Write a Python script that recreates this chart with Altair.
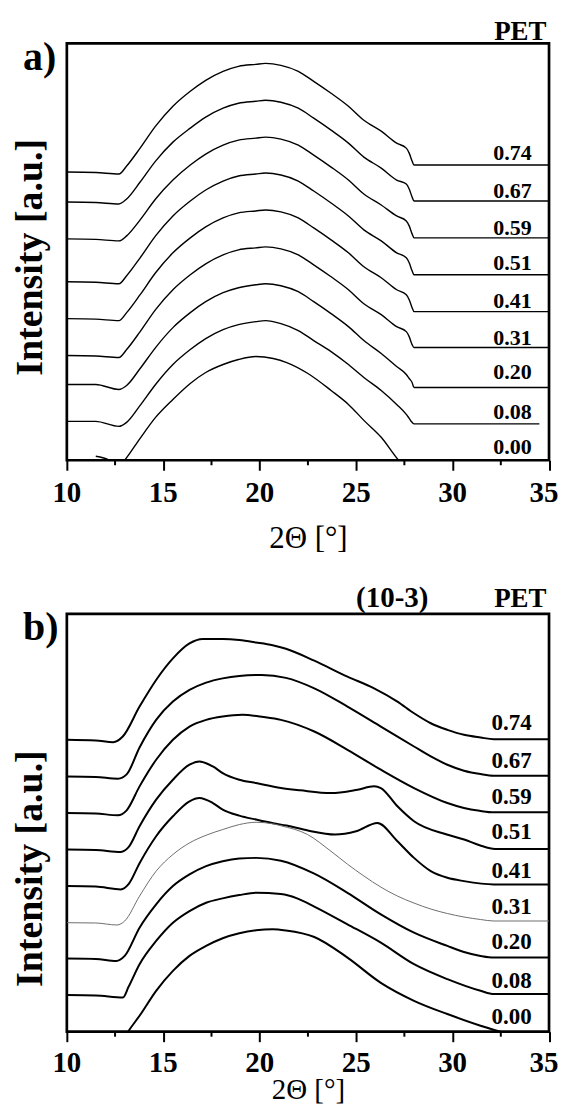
import altair as alt
import pandas as pd

FONT = "Liberation Serif"

# ---------------- Panel a) ----------------
XA = [10, 11.5, 12.7, 13.1, 13.8, 14.6, 15.5, 16.4, 17.2, 18.1, 18.9, 19.8, 20.3,
      21.1, 22.0, 22.8, 23.7, 24.6, 25.4, 26.3, 27.1, 27.6, 27.75, 27.9, 28.0, 35]
XA_008 = XA[:-1] + [34.5]
A_074 = [289, 288.5, 287, 295, 313, 335, 355, 370, 381, 390, 395, 397, 398, 396, 390, 380, 368, 355, 341, 330, 318, 313, 308, 300, 296, 296]
A_067 = [259, 258.5, 257, 262, 279, 300, 319, 333, 344, 353, 358, 360, 361, 359, 353, 343, 331, 318, 304, 293, 281, 277, 272, 264, 260, 260]
A_059 = [222, 221.5, 220, 225, 241, 262, 281, 296, 307, 316, 321, 323, 324, 322, 316, 306, 294, 281, 267, 256, 245, 240, 235, 227, 223, 223]
A_051 = [179, 178.5, 177, 185, 203, 225, 245, 260, 271, 280, 285, 287, 288, 286, 280, 270, 258, 245, 231, 220, 208, 203, 198, 190, 186, 186]
A_041 = [142, 141.5, 140, 148, 166, 188, 208, 223, 234, 243, 248, 250, 251, 249, 243, 233, 221, 208, 194, 183, 171, 166, 161, 153, 149, 149]
A_031 = [105, 104.5, 103, 111, 129, 151, 171, 186, 197, 206, 211, 213, 214, 212, 206, 196, 184, 171, 157, 146, 134, 129, 124, 116, 113, 113]
A_020 = [76, 76, 71, 75, 92, 113, 133, 148, 159, 168, 173, 176, 177, 175, 169, 159, 147, 134, 120, 107, 94, 86, 82, 78, 73, 73]
A_008 = [39, 39, 34, 38, 55, 76, 96, 111, 122, 131, 136, 139, 140, 137, 130, 120, 109, 96, 83, 70, 56, 46, 42, 38, 36.5, 36.5]
XA_000 = [11.5, 12.2, 12.6, 13.0, 13.8, 14.6, 15.5, 16.4, 17.2, 18.1, 18.9, 19.8, 20.7, 21.4, 22.5, 23.7, 24.6, 25.4, 26.3, 27.2, 27.7]
A_000 = [4, 0, -9, 0, 22, 43, 61, 77, 88, 96, 101, 104, 102, 98, 87, 70, 56, 40, 23, 0, -10]

CURVES_A = [("0.74", XA, A_074), ("0.67", XA, A_067), ("0.59", XA, A_059),
            ("0.51", XA, A_051), ("0.41", XA, A_041), ("0.31", XA, A_031),
            ("0.20", XA, A_020), ("0.08", XA_008, A_008), ("0.00", XA_000, A_000)]

# ---------------- Panel b) ----------------
XB_074 = [10, 11.5, 12.4, 12.9, 13.77, 14.63, 15.5, 16.36, 17.05, 18.08, 18.94, 19.81, 20.67, 21.36, 22.83, 24.55, 25.93, 27.14, 28.0, 28.87, 29.73, 30.59, 31.45, 32.14, 35]
B_074 = [292.7, 292, 290.3, 296, 326, 352.7, 374.3, 389.3, 393.7, 393.7, 392.7, 390.3, 387.5, 384, 372, 356, 344.3, 331, 319.3, 309.3, 302.7, 297.7, 295, 293.3, 293.3]
XB_067 = [10, 11.5, 12.65, 13.1, 13.77, 14.63, 15.5, 16.36, 17.22, 18.08, 18.94, 20.1, 21.36, 22.83, 24.55, 26.28, 28.0, 28.87, 29.73, 30.59, 31.45, 32.14, 35]
B_067 = [256, 255.5, 253.7, 258, 285, 312.7, 331, 342.7, 350, 354.3, 356.7, 357.7, 354.8, 344.3, 326, 306, 286, 276, 267.7, 261.7, 258.3, 256.7, 256.7]
XB_059 = [10, 11.5, 12.65, 13.1, 13.77, 14.63, 15.5, 16.36, 17.22, 18.08, 19.1, 20.2, 21.1, 22.83, 24.55, 26.28, 28.0, 29.73, 30.59, 31.4, 32.14, 35]
B_059 = [219.3, 218.8, 217, 222, 246, 272.7, 292.7, 306, 312.7, 316, 317.7, 315.5, 312.7, 301, 282.7, 262.7, 244.3, 229.3, 224.3, 221.5, 220, 220]
XB_051 = [10, 11.5, 12.8, 13.2, 13.77, 14.63, 15.5, 16.36, 16.87, 17.57, 18.08, 18.94, 19.81, 21.1, 22.1, 23.69, 25.07, 25.93, 26.28, 27.14, 28.0, 29.7, 30.6, 31.4, 32.2, 35]
B_051 = [182.7, 182.2, 180.3, 185, 206, 232.7, 252.7, 267.7, 271, 266, 259.3, 252.7, 249.3, 244.3, 242, 239.3, 242.7, 246, 244.3, 226, 211, 197.7, 192.7, 187, 183.3, 183.3]
XB_041 = [10, 11.5, 12.8, 13.2, 13.77, 14.63, 15.5, 16.36, 16.87, 17.57, 18.08, 18.94, 19.81, 20.7, 21.4, 22.5, 23.9, 25.0, 26.1, 27.14, 28.0, 28.87, 29.73, 30.59, 32.14, 35]
B_041 = [146, 145.5, 142.7, 148, 169, 196, 216, 231, 234.3, 229.3, 222.7, 216.7, 212.7, 209, 206.7, 201.7, 197.7, 201, 209.3, 191, 174.3, 161, 154.3, 151, 147.7, 147.7]
XB_031 = [10, 11.5, 12.6, 13.0, 13.77, 14.63, 15.5, 16.36, 17.22, 18.08, 18.94, 19.81, 20.67, 21.1, 22.48, 23.69, 24.55, 25.41, 26.28, 27.14, 28.0, 28.87, 29.73, 30.59, 31.45, 32.14, 35]
B_031 = [109.3, 109, 107, 111, 136, 161, 177.7, 189.3, 197, 202.7, 207.7, 210, 208.5, 206.5, 197.7, 181, 168, 156, 145, 136, 129, 123, 118.5, 115, 112.5, 111, 111]
XB_020 = [10, 11.5, 12.56, 13.0, 13.77, 14.63, 15.5, 16.36, 17.22, 18.08, 18.94, 19.81, 21.1, 22.83, 24.55, 26.28, 28.0, 29.73, 30.59, 31.45, 32.14, 35]
B_020 = [73.3, 73, 71, 76, 104.3, 127.7, 146, 157.7, 166, 171, 173.7, 174.3, 171.5, 158.5, 139.3, 117.7, 99.3, 86, 80, 76, 74.3, 74.3]
XB_008 = [10, 11.5, 12.91, 13.2, 13.77, 14.63, 15.5, 16.36, 17.22, 18.08, 18.94, 19.81, 21.1, 21.97, 22.83, 24.55, 26.28, 28.0, 29.73, 31.45, 32.14, 35]
B_008 = [36.7, 36.3, 34.3, 45, 67.7, 91, 109.3, 121, 129.3, 133.7, 137, 139.3, 138, 133.5, 125.5, 107.7, 89.3, 67.7, 52.7, 41, 37.7, 37.7]
XB_000 = [12.9, 13.17, 13.77, 14.63, 15.5, 16.36, 17.22, 18.08, 18.94, 19.81, 20.67, 21.36, 22.83, 24.55, 26.28, 28.0, 29.73, 31.45, 32.3, 32.8]
B_000 = [-8, 0, 16, 41, 61, 76, 86, 93.7, 98.7, 101.7, 102.7, 101.5, 95, 74.3, 49, 31, 17.7, 6, 1, -2]

CURVES_B = [("0.74", XB_074, B_074), ("0.67", XB_067, B_067), ("0.59", XB_059, B_059),
            ("0.51", XB_051, B_051), ("0.41", XB_041, B_041), ("0.31", XB_031, B_031),
            ("0.20", XB_020, B_020), ("0.08", XB_008, B_008), ("0.00", XB_000, B_000)]

LABELS = ["0.74", "0.67", "0.59", "0.51", "0.41", "0.31", "0.20", "0.08", "0.00"]
LABEL_Y_A = [297, 259, 222, 187, 149, 112, 77, 37, 2]
LABEL_Y_B = [295, 256, 220, 185, 146, 110, 75, 36, 0]
LABEL_X = 34.1

MAJOR_TICKS = [10, 15, 20, 25, 30, 35]
TICK_TEXT = ["10", "15", "20", "25", "30", "35"]
MINOR_TICKS = [12.5, 17.5, 22.5, 27.5, 32.5]

W = 483.5


def long_df(curves):
    rows = []
    for name, xs, ys in curves:
        for i, (xv, yv) in enumerate(zip(xs, ys)):
            rows.append({"s": name, "x": xv, "y": yv, "o": i})
    return pd.DataFrame(rows)


def panel(curves, height, ymax, label_y, label_dy, label_size, tag, tag_y,
          extra_texts, title_y, title_size, ytitle_y, ticklab_y, thin_curve, lw):
    xsc = alt.Scale(domain=[10, 35], nice=False, zero=False)
    ysc = alt.Scale(domain=[0, ymax], nice=False, zero=False)
    xaxis = alt.Axis(values=MAJOR_TICKS, title="2Θ [°]", grid=False, domain=False,
                     ticks=True, tickSize=10, tickWidth=2, tickColor="black",
                     labels=False,
                     titleFont=FONT, titleFontWeight="normal", titleFontSize=title_size,
                     titleColor="black", titleBaseline="alphabetic", titleAlign="center",
                     titleX=W / 2, titleY=title_y)
    yaxis = alt.Axis(ticks=False, labels=False, domain=False, grid=False,
                     title="Intensity [a.u.]", titleFont=FONT, titleFontWeight="bold",
                     titleFontSize=38, titleColor="black", titleAngle=270,
                     titleAlign="center", titleBaseline="alphabetic",
                     titleX=-25, titleY=ytitle_y)

    def X(field="x"):
        return alt.X(f"{field}:Q", scale=xsc, axis=xaxis)

    def Y(field="y"):
        return alt.Y(f"{field}:Q", scale=ysc, axis=yaxis)

    df = long_df(curves)
    thick = df[df["s"] != thin_curve] if thin_curve else df
    layers = [
        alt.Chart(thick).mark_line(color="black", strokeWidth=lw, clip=True,
                                   interpolate="monotone").encode(
            x=X(), y=Y(), detail="s:N", order="o:Q")
    ]
    if thin_curve:
        thin = df[df["s"] == thin_curve]
        layers.append(alt.Chart(thin).mark_line(color="#6e6e6e", strokeWidth=1.0, clip=True,
                                                interpolate="monotone").encode(
            x=X(), y=Y(), order="o:Q"))
    # minor ticks
    layers.append(alt.Chart(pd.DataFrame({"x": MINOR_TICKS})).mark_rule(
        color="black", strokeWidth=2).encode(
        x=X(), y=alt.value(height), y2=alt.value(height + 5)))
    # tick labels (bold serif); the last one nudged in so it stays on the page
    ticks_df = pd.DataFrame({"x": MAJOR_TICKS, "t": TICK_TEXT})
    for sub, dx in ((ticks_df.iloc[:-1], 0), (ticks_df.iloc[-1:], -5)):
        layers.append(alt.Chart(sub).mark_text(
            align="center", baseline="alphabetic", font=FONT, fontWeight="bold",
            fontSize=29, color="black", dx=dx).encode(
            x=X(), y=alt.value(height + ticklab_y), text="t:N"))
    # curve labels
    lab = pd.DataFrame({"t": LABELS, "y": label_y, "x": [LABEL_X] * len(LABELS)})
    layers.append(alt.Chart(lab).mark_text(
        align="right", baseline="alphabetic", dy=label_dy, font=FONT, fontWeight="bold",
        fontSize=label_size, color="black").encode(x=X(), y=Y(), text="t:N"))
    ann = [{"t": tag, "x": 7.73, "y": tag_y, "al": "left", "fs": 40}]
    for txt, xv, yv, al, fs in extra_texts:
        ann.append({"t": txt, "x": xv, "y": yv, "al": al, "fs": fs})
    for a in ann:
        layers.append(alt.Chart(pd.DataFrame([a])).mark_text(
            align=a["al"], baseline="alphabetic", font=FONT, fontWeight="bold",
            fontSize=a["fs"], color="black").encode(x=X(), y=Y(), text="t:N"))
    return alt.layer(*layers).properties(width=W, height=height)


chart_a = panel(CURVES_A, 418, 418, LABEL_Y_A, -4, 22, "a)", 391.3,
                [("PET", 34.87, 421.3, "right", 27)], 87, 31, 214, 42, None, 1.4)
chart_b = panel(CURVES_B, 419, 419, LABEL_Y_B, -8, 23, "b)", 392.7,
                [("PET", 34.87, 426, "right", 27), ("(10-3)", 26.87, 426, "center", 29)],
                67, 29, 255, 40.7, "0.31", 2.0)

chart = (alt.vconcat(chart_a, chart_b, spacing=154, bounds="flush")
         .configure_view(stroke="black", strokeWidth=2.7)
         .properties(padding={"left": 2, "top": 7, "right": -2, "bottom": -4},
                     background="white"))

chart.save("out.html", embed_options={"renderer": "svg", "actions": False})
